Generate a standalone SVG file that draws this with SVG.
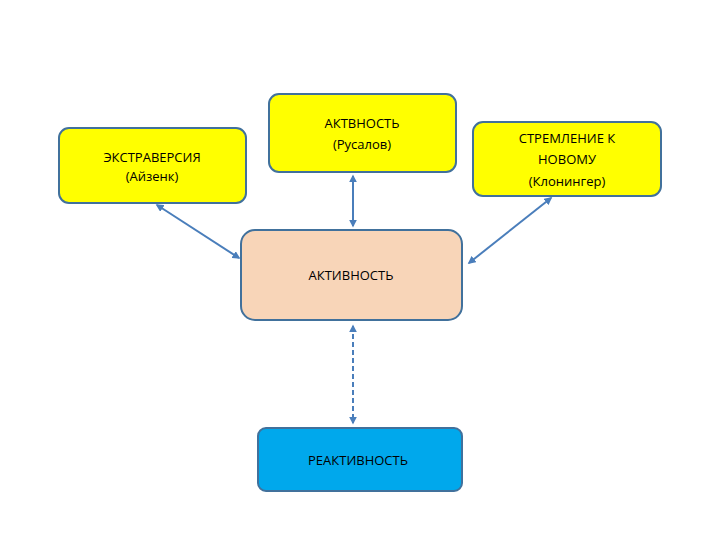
<svg xmlns="http://www.w3.org/2000/svg" width="720" height="540" viewBox="0 0 720 540">
<style>
.b{stroke:#41719C;stroke-width:2}
.t{font-family:"Open Sans","Liberation Sans",sans-serif;font-size:13px;text-anchor:middle;fill:#000}
.c{stroke:#4A7EBB;stroke-width:2;fill:none;marker-start:url(#a);marker-end:url(#a)}
</style>
<defs><marker id="a" viewBox="0 0 10 10" refX="8" refY="5" markerWidth="4" markerHeight="4" orient="auto-start-reverse"><path d="M0,0L10,5L0,10z" fill="#4A7EBB"/></marker></defs>
<rect width="720" height="540" fill="#fff"/>
<g id="n1"><rect class="b" x="59" y="128" width="187" height="75" rx="10" fill="#FFFF00"/><text class="t" x="152" y="162">ЭКСТРАВЕРСИЯ</text><text class="t" x="152" y="181">(Айзенк)</text></g>
<g id="n2"><rect class="b" x="269" y="94" width="187" height="78" rx="10" fill="#FFFF00"/><text class="t" x="362" y="128">АКТВНОСТЬ</text><text class="t" x="362" y="149">(Русалов)</text></g>
<g id="n3"><rect class="b" x="473" y="122" width="188" height="74" rx="10" fill="#FFFF00"/><text class="t" x="567" y="143">СТРЕМЛЕНИЕ К</text><text class="t" x="567" y="164">НОВОМУ</text><text class="t" x="567" y="186">(Клонингер)</text></g>
<g id="n4"><rect class="b" x="241" y="230" width="221" height="90" rx="14" fill="#F8D5B8"/><text class="t" x="351" y="280">АКТИВНОСТЬ</text></g>
<g id="n5"><rect class="b" x="258" y="428" width="204" height="63" rx="8" fill="#00A8EC"/><text class="t" x="358" y="465">РЕАКТИВНОСТЬ</text></g>
<g id="connectors">
<path class="c" d="M157,205L239,258"/>
<path class="c" d="M353,176L353,226"/>
<path class="c" d="M551,198L469,263"/>
<path class="c" d="M353,326L353,423" stroke-dasharray="5,3"/>
</g>
</svg>
